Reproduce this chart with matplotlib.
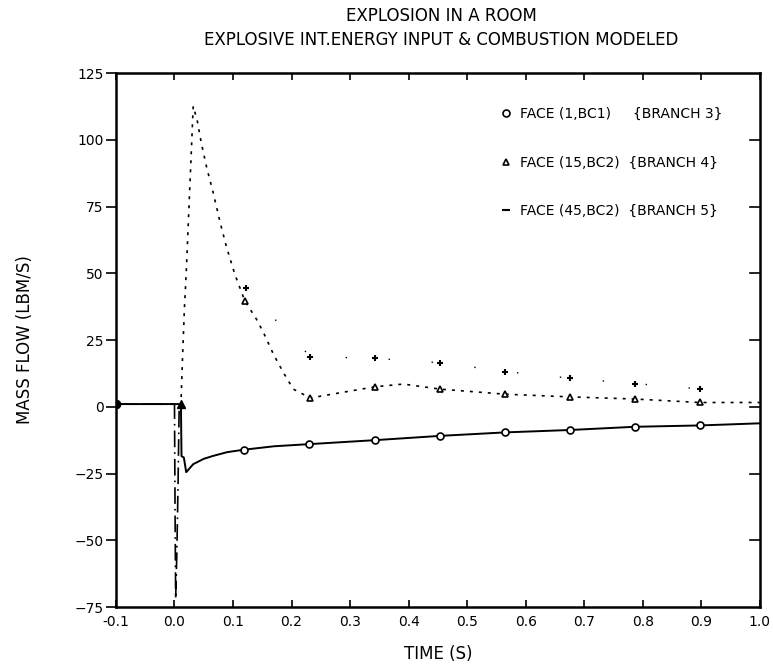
import matplotlib
matplotlib.use("Agg")
import matplotlib.pyplot as plt
import numpy as np
from matplotlib.lines import Line2D

# branch 3 -- face (1,BC1), solid line, circles
b3_t = [-0.1, 0.0, 0.011, 0.012, 0.016, 0.02, 0.032, 0.05, 0.066, 0.09, 0.118,
        0.17, 0.23, 0.343, 0.454, 0.565, 0.676, 0.786, 0.897, 1.0]
b3_q = [1.0, 1.0, 1.0, -18.5, -19.0, -24.5, -21.5, -19.5, -18.4, -17.0, -16.1,
        -14.8, -14.0, -12.5, -10.9, -9.6, -8.7, -7.5, -7.0, -6.2]
b3_mt = [-0.1, 0.118, 0.23, 0.343, 0.454, 0.565, 0.676, 0.786, 0.897]
b3_mq = [1.0, -16.1, -14.0, -12.5, -10.9, -9.6, -8.7, -7.5, -7.0]

# branch 4 -- face (15,BC2), dashed line, triangles
b4_t = [-0.1, 0.0, 0.011, 0.014, 0.017, 0.02, 0.032, 0.039, 0.046, 0.055, 0.066,
        0.078, 0.089, 0.103, 0.120, 0.140, 0.152, 0.169, 0.186, 0.203, 0.232,
        0.29, 0.343, 0.391, 0.454, 0.565, 0.676, 0.786, 0.897, 1.0]
b4_q = [1.0, 1.0, 1.0, 20.0, 37.0, 50.0, 112.6, 107.0, 98.6, 89.6, 80.3,
        69.0, 59.7, 49.7, 39.7, 32.8, 27.8, 19.7, 12.8, 6.6, 3.3,
        5.5, 7.5, 8.5, 6.6, 4.7, 3.7, 2.9, 1.6, 1.6]
b4_mt = [0.011, 0.120, 0.232, 0.343, 0.454, 0.565, 0.676, 0.786, 0.897]
b4_mq = [1.0, 39.7, 3.3, 7.5, 6.6, 4.7, 3.7, 2.9, 1.6]

# branch 5 -- face (45,BC2), dash-dot line, pluses
b5_t = [-0.1, 0.0, 0.001, 0.002, 0.004, 0.006, 0.008]
b5_q = [1.0, 1.0, -40.0, -72.0, -55.0, -30.0, 0.0]
b5_mt = [0.1216, 0.232, 0.343, 0.454, 0.565, 0.676, 0.786, 0.897]
b5_mq = [44.3, 18.8, 18.1, 16.5, 13.2, 10.7, 8.7, 6.7]

labels = ["FACE (1,BC1)     {BRANCH 3}",
          "FACE (15,BC2)  {BRANCH 4}",
          "FACE (45,BC2)  {BRANCH 5}"]

xticks = np.round(np.arange(-0.1, 1.01, 0.1), 1)
yticks = np.arange(-75, 126, 25)

fig = plt.figure(figsize=(7.73, 6.68), dpi=100)
ax = fig.add_axes([0.150, 0.0913, 0.833, 0.7994])

ax.plot(b3_t, b3_q, color="black", lw=1.4)
ax.plot(b3_mt[1:], b3_mq[1:], ls="none", marker="o", ms=5, mfc="white",
        mec="black", mew=1.2)
ax.plot(b3_mt[:1], b3_mq[:1], ls="none", marker="o", ms=6, color="black")

ax.plot(b4_t, b4_q, color="black", lw=1.2, ls=(0, (1.8, 3.6)))
ax.plot(b4_mt[1:], b4_mq[1:], ls="none", marker="^", ms=5, mfc="white",
        mec="black", mew=1.2)
ax.plot(b4_mt[:1], b4_mq[:1], ls="none", marker="^", ms=6, color="black")

ax.plot(b5_t, b5_q, color="black", lw=1.2, ls=(0, (10, 3, 1, 3)))
ax.plot(b5_mt, b5_mq, color="black", lw=1.0, ls=(0, (1, 30)),
        marker="+", ms=5, mew=1.5)

ax.set_xlim(-0.1, 1.0)
ax.set_ylim(-75, 125)
ax.set_xticks(xticks)
ax.set_xticklabels([f"{v:.1f}" for v in xticks])
ax.set_yticks(yticks)
for s in ax.spines.values():
    s.set_linewidth(1.8)
ax.tick_params(axis="y", which="both", direction="out", length=7, width=1.2,
               labelsize=10, pad=2, right=False)
ax.tick_params(axis="x", which="both", direction="in", length=5, width=1.2,
               labelsize=10, pad=6, top=True)
for y in yticks[1:-1]:
    ax.plot([0.985, 1.0], [y, y], transform=ax.get_yaxis_transform(),
            color="black", lw=1.2, clip_on=False)

ax.set_xlabel("TIME (S)", fontsize=12, labelpad=11)
ax.set_ylabel("MASS FLOW (LBM/S)", fontsize=12)
ax.yaxis.set_label_coords(-0.127, 0.5)

fig.text(0.571, 0.976, "EXPLOSION IN A ROOM", ha="center", va="center",
         fontsize=12)
fig.text(0.571, 0.940, "EXPLOSIVE INT.ENERGY INPUT & COMBUSTION MODELED",
         ha="center", va="center", fontsize=12)

handles = [
    Line2D([], [], ls="none", marker="o", ms=5, mfc="white", mec="black", mew=1.2),
    Line2D([], [], ls="none", marker="^", ms=5, mfc="white", mec="black", mew=1.2),
    Line2D([], [], ls="none", marker="_", ms=6, color="black", mew=1.5),
]
ax.legend(handles, labels, loc="upper left", bbox_to_anchor=(0.578, 0.96),
          frameon=False, fontsize=10, handlelength=0.8, handletextpad=0.6,
          labelspacing=2.5)

fig.savefig("out.png", dpi=100)
